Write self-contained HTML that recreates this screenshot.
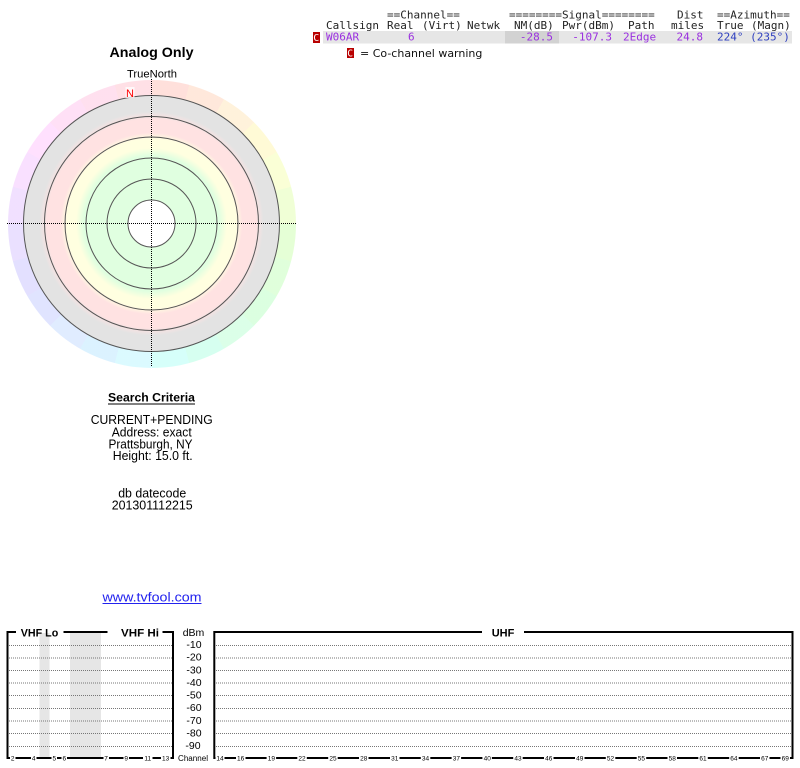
<!DOCTYPE html>
<html><head><meta charset="utf-8"><style>
html,body{margin:0;padding:0;background:#fff;width:800px;height:768px;overflow:hidden;position:relative}
.ring{position:absolute;left:7.5px;top:79.5px;width:288px;height:288px;border-radius:50%;
background:conic-gradient(from 0deg,
hsl(8,100%,93%) 0deg 15deg, hsl(22,100%,93%) 15deg 30deg, hsl(38,100%,93%) 30deg 45deg, hsl(52,100%,92%) 45deg 60deg,
hsl(68,100%,92%) 60deg 75deg, hsl(82,100%,92%) 75deg 90deg, hsl(98,100%,92%) 90deg 105deg, hsl(112,100%,93%) 105deg 120deg,
hsl(128,100%,93%) 120deg 135deg, hsl(142,100%,93%) 135deg 150deg, hsl(158,100%,92%) 150deg 165deg, hsl(172,100%,92%) 165deg 180deg,
hsl(188,100%,93%) 180deg 195deg, hsl(202,100%,93%) 195deg 210deg, hsl(218,100%,94%) 210deg 225deg, hsl(232,100%,94%) 225deg 240deg,
hsl(245,100%,94%) 240deg 255deg, hsl(258,100%,94%) 255deg 270deg, hsl(272,100%,94%) 270deg 285deg, hsl(288,100%,94%) 285deg 300deg,
hsl(302,100%,94%) 300deg 315deg, hsl(318,100%,94%) 315deg 330deg, hsl(332,100%,94%) 330deg 345deg, hsl(348,100%,94%) 345deg 360deg);}
svg{position:absolute;left:0;top:0}
.m{font-family:"DejaVu Sans Mono","Liberation Mono",monospace;font-size:11px;fill:#222}
.s{font-family:"Liberation Sans",Arial,sans-serif}
.p{fill:#9a30e0}
.b{fill:#3040c0}
.t{font-family:"Liberation Sans",Arial,sans-serif;font-size:6.5px;fill:#000}
</style></head><body>
<div class="ring"></div>
<svg width="800" height="768" viewBox="0 0 800 768" xmlns="http://www.w3.org/2000/svg">
<defs>
<radialGradient id="rg" gradientUnits="userSpaceOnUse" cx="151.5" cy="223.5" r="128">
<stop offset="0" stop-color="#e0ffe0"/>
<stop offset="0.53" stop-color="#e0ffe0"/>
<stop offset="0.59" stop-color="#ffffe0"/>
<stop offset="0.66" stop-color="#ffffe0"/>
<stop offset="0.71" stop-color="#ffe2e2"/>
<stop offset="0.815" stop-color="#ffe2e2"/>
<stop offset="0.875" stop-color="#e3e3e3"/>
<stop offset="1" stop-color="#e3e3e3"/>
</radialGradient>
</defs>

<!-- Top table -->
<text class="m" x="387" y="18.5">==Channel==</text>
<text class="m" x="509" y="18.5">========Signal========</text>
<text class="m" x="677" y="18.5">Dist</text>
<text class="m" x="717" y="18.5">==Azimuth==</text>

<text class="m" x="326" y="29">Callsign</text>
<text class="m" x="387" y="29">Real</text>
<text class="m" x="422" y="29">(Virt)</text>
<text class="m" x="467" y="29">Netwk</text>
<text class="m" x="514" y="29">NM(dB)</text>
<text class="m" x="562" y="29">Pwr(dBm)</text>
<text class="m" x="628" y="29">Path</text>
<text class="m" x="671" y="29">miles</text>
<text class="m" x="717" y="29">True</text>
<text class="m" x="751" y="29">(Magn)</text>

<rect x="323" y="31" width="469" height="12.5" fill="#e6e6e6"/>
<rect x="505" y="31" width="54" height="12.5" fill="#d2d2d2"/>
<rect x="313" y="32" width="7" height="11" fill="#b80000"/>
<text x="313.3" y="41" style="font-family:'DejaVu Sans Mono',monospace;font-size:10px;fill:#fff">C</text>
<text class="m p" x="326" y="40.5">W06AR</text>
<text class="m p" x="408" y="40.5">6</text>
<text class="m p" x="553" y="40.5" text-anchor="end">-28.5</text>
<text class="m p" x="612" y="40.5" text-anchor="end">-107.3</text>
<text class="m p" x="623" y="40.5">2Edge</text>
<text class="m p" x="703" y="40.5" text-anchor="end">24.8</text>
<text class="m b" x="717" y="40.5">224° (235°)</text>

<rect x="347" y="48" width="7" height="10" fill="#b80000"/>
<text x="347.3" y="56.5" style="font-family:'DejaVu Sans Mono',monospace;font-size:9.5px;fill:#fff">C</text>
<text x="360" y="57" style="font-family:'DejaVu Sans',sans-serif;font-size:11px;fill:#111">= Co-channel warning</text>

<!-- Left header -->
<text class="s" x="151.5" y="57" text-anchor="middle" style="font-size:14px;font-weight:bold" textLength="84" lengthAdjust="spacingAndGlyphs">Analog Only</text>
<text class="s" x="152" y="77.5" text-anchor="middle" style="font-size:11px" textLength="50" lengthAdjust="spacingAndGlyphs">TrueNorth</text>

<!-- Polar -->
<circle cx="151.5" cy="223.5" r="128" fill="url(#rg)"/>
<g fill="none" stroke="#555" stroke-width="1">
<circle cx="151.5" cy="223.5" r="128"/>
<circle cx="151.5" cy="223.5" r="107"/>
<circle cx="151.5" cy="223.5" r="86.5"/>
<circle cx="151.5" cy="223.5" r="65.5"/>
<circle cx="151.5" cy="223.5" r="44.5"/>
</g>
<circle cx="151.5" cy="223.5" r="23.5" fill="#fff" stroke="#555" stroke-width="1"/>
<line x1="7" y1="223.5" x2="296" y2="223.5" stroke="#000" stroke-width="1" stroke-dasharray="1,1"/>
<line x1="151.5" y1="79" x2="151.5" y2="367" stroke="#000" stroke-width="1" stroke-dasharray="1,1"/>
<rect x="125.5" y="87" width="9" height="11" fill="#fff" opacity="0.75"/>
<text class="s" x="126" y="97" style="font-size:11px;fill:#ff0000">N</text>

<!-- Search criteria -->
<text class="s" x="151.5" y="401.5" text-anchor="middle" style="font-size:12px;font-weight:bold" textLength="87" lengthAdjust="spacingAndGlyphs">Search Criteria</text>
<rect x="108" y="403.5" width="87" height="1" fill="#000"/>
<text class="s" x="151.7" y="424" text-anchor="middle" style="font-size:12.5px" textLength="122" lengthAdjust="spacingAndGlyphs">CURRENT+PENDING</text>
<text class="s" x="151.7" y="436.7" text-anchor="middle" style="font-size:12.5px" textLength="80" lengthAdjust="spacingAndGlyphs">Address: exact</text>
<text class="s" x="150.5" y="448.3" text-anchor="middle" style="font-size:12.5px" textLength="84" lengthAdjust="spacingAndGlyphs">Prattsburgh, NY</text>
<text class="s" x="152.7" y="460" text-anchor="middle" style="font-size:12.5px" textLength="80" lengthAdjust="spacingAndGlyphs">Height: 15.0 ft.</text>
<text class="s" x="152.2" y="497.7" text-anchor="middle" style="font-size:12.5px" textLength="68" lengthAdjust="spacingAndGlyphs">db datecode</text>
<text class="s" x="152.2" y="509.3" text-anchor="middle" style="font-size:12.5px" textLength="81" lengthAdjust="spacingAndGlyphs">201301112215</text>
<text class="s" x="152" y="601.5" text-anchor="middle" style="font-size:13px;fill:#2222ee" textLength="99" lengthAdjust="spacingAndGlyphs">www.tvfool.com</text>
<rect x="102.5" y="603" width="99" height="1" fill="#2222ee"/>

<!-- VHF box -->
<rect x="39.5" y="633" width="10" height="125" fill="#e6e6e6"/>
<rect x="70" y="633" width="31" height="125" fill="#e6e6e6"/>
<g stroke="#777" stroke-width="1" stroke-dasharray="1,1">
<line x1="9" y1="645.5" x2="172" y2="645.5"/><line x1="9" y1="658" x2="172" y2="658"/><line x1="9" y1="670.5" x2="172" y2="670.5"/>
<line x1="9" y1="683" x2="172" y2="683"/><line x1="9" y1="695.5" x2="172" y2="695.5"/><line x1="9" y1="708.5" x2="172" y2="708.5"/>
<line x1="9" y1="721" x2="172" y2="721"/><line x1="9" y1="733.5" x2="172" y2="733.5"/><line x1="9" y1="746.5" x2="172" y2="746.5"/>
<line x1="216" y1="645.5" x2="791" y2="645.5"/><line x1="216" y1="658" x2="791" y2="658"/><line x1="216" y1="670.5" x2="791" y2="670.5"/>
<line x1="216" y1="683" x2="791" y2="683"/><line x1="216" y1="695.5" x2="791" y2="695.5"/><line x1="216" y1="708.5" x2="791" y2="708.5"/>
<line x1="216" y1="721" x2="791" y2="721"/><line x1="216" y1="733.5" x2="791" y2="733.5"/><line x1="216" y1="746.5" x2="791" y2="746.5"/>
</g>
<g stroke="#000" stroke-width="2" fill="none">
<polyline points="16,632 7.5,632 7.5,758 173,758 173,632 162.5,632"/>
<line x1="63.5" y1="632" x2="107.5" y2="632"/>
<polyline points="482,632 214.3,632 214.3,758 792.5,758 792.5,632 524,632"/>
</g>
<text class="s" x="39.5" y="636.5" text-anchor="middle" style="font-size:11px;font-weight:bold" textLength="37.5" lengthAdjust="spacingAndGlyphs">VHF Lo</text>
<text class="s" x="140" y="636.5" text-anchor="middle" style="font-size:11px;font-weight:bold" textLength="38" lengthAdjust="spacingAndGlyphs">VHF Hi</text>
<text class="s" x="503" y="636.5" text-anchor="middle" style="font-size:11px;font-weight:bold">UHF</text>

<!-- dBm labels -->
<g class="s" style="font-size:10.5px;fill:#000" text-anchor="middle">
<text x="193.5" y="636">dBm</text>
<text x="194" y="648">-10</text><text x="194" y="660.6">-20</text><text x="194" y="673.3">-30</text>
<text x="194" y="685.9">-40</text><text x="194" y="698.5">-50</text><text x="194" y="711.2">-60</text>
<text x="194" y="723.8">-70</text><text x="194" y="736.4">-80</text><text x="193" y="749">-90</text>
</g>
<text class="s" x="193" y="761" text-anchor="middle" style="font-size:8px" textLength="30" lengthAdjust="spacingAndGlyphs">Channel</text>

<!-- channel tick labels -->
<g fill="#fff">
<rect x="10" y="755.5" width="5.5" height="5"/><rect x="31" y="755.5" width="5.5" height="5"/>
<rect x="51.5" y="755.5" width="5.5" height="5"/><rect x="61.5" y="755.5" width="5.5" height="5"/>
<rect x="103.5" y="755.5" width="5.5" height="5"/><rect x="123.5" y="755.5" width="5.5" height="5"/>
<rect x="143" y="755.5" width="9.5" height="5"/><rect x="161" y="755.5" width="9.5" height="5"/>
</g>
<g class="t" text-anchor="middle">
<text x="12.7" y="760.5">2</text><text x="33.7" y="760.5">4</text><text x="54.3" y="760.5">5</text><text x="64.3" y="760.5">6</text>
<text x="106" y="760.5">7</text><text x="126.2" y="760.5">9</text><text x="147.7" y="760.5">11</text><text x="165.6" y="760.5">13</text>
</g>
<g fill="#fff">
<rect x="215.5" y="755.5" width="9" height="5"/><rect x="236" y="755.5" width="9.5" height="5"/>
<rect x="266.6" y="755.5" width="9.5" height="5"/><rect x="297.3" y="755.5" width="9.5" height="5"/>
<rect x="328.2" y="755.5" width="9.5" height="5"/><rect x="359" y="755.5" width="9.5" height="5"/>
<rect x="390" y="755.5" width="9.5" height="5"/><rect x="420.8" y="755.5" width="9.5" height="5"/>
<rect x="451.6" y="755.5" width="9.5" height="5"/><rect x="482.4" y="755.5" width="9.5" height="5"/>
<rect x="513.2" y="755.5" width="9.5" height="5"/><rect x="544" y="755.5" width="9.5" height="5"/>
<rect x="575" y="755.5" width="9.5" height="5"/><rect x="605.8" y="755.5" width="9.5" height="5"/>
<rect x="636.7" y="755.5" width="9.5" height="5"/><rect x="667.5" y="755.5" width="9.5" height="5"/>
<rect x="698.3" y="755.5" width="9.5" height="5"/><rect x="729.2" y="755.5" width="9.5" height="5"/>
<rect x="760" y="755.5" width="9.5" height="5"/><rect x="780.5" y="755.5" width="9.5" height="5"/>
</g>
<g class="t" text-anchor="middle">
<text x="220" y="760.5">14</text><text x="240.6" y="760.5">16</text><text x="271.4" y="760.5">19</text>
<text x="302" y="760.5">22</text><text x="333" y="760.5">25</text><text x="363.8" y="760.5">28</text>
<text x="394.7" y="760.5">31</text><text x="425.5" y="760.5">34</text><text x="456.4" y="760.5">37</text>
<text x="487.2" y="760.5">40</text><text x="518" y="760.5">43</text><text x="548.8" y="760.5">46</text>
<text x="579.7" y="760.5">49</text><text x="610.5" y="760.5">52</text><text x="641.4" y="760.5">55</text>
<text x="672.2" y="760.5">58</text><text x="703" y="760.5">61</text><text x="733.9" y="760.5">64</text>
<text x="764.7" y="760.5">67</text><text x="785.3" y="760.5">69</text>
</g>
</svg>
</body></html>
